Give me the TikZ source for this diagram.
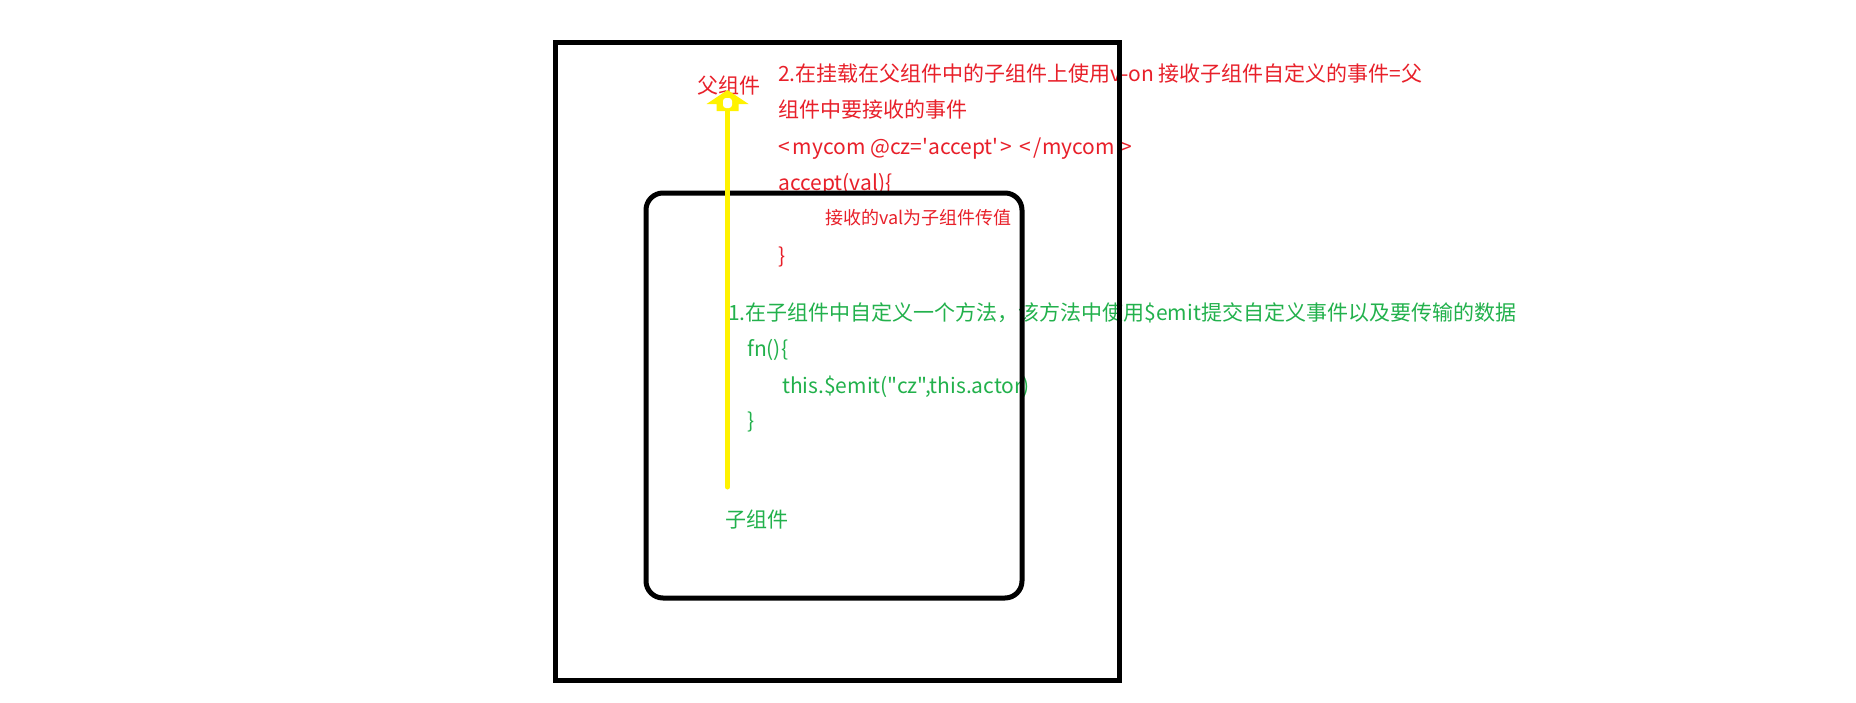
\documentclass[tikz,border=0pt]{standalone}
\usepackage{fontspec}
\newfontfamily\cnfont{Noto Sans CJK SC}
\definecolor{pred}{HTML}{E8202A}
\definecolor{pgreen}{HTML}{22B14C}
\definecolor{pyellow}{HTML}{FFF200}

\begin{document}
\begin{tikzpicture}[x=1pt,y=-1pt,
	parenttxt/.style={anchor=base west, inner sep=0pt, text=pred, font=\cnfont\fontsize{21}{25}\selectfont},
	notetxt/.style={parenttxt, font=\cnfont\fontsize{18}{22}\selectfont},
	childtxt/.style={anchor=base west, inner sep=0pt, text=pgreen, font=\cnfont\fontsize{21}{25}\selectfont},
	frame/.style={line width=5pt}]
			\useasboundingbox[fill=white] (0,0) rectangle (1856,702);
			\node[parenttxt](parent) at (697,93){父组件};
			\node[parenttxt](p1) at (778,81){2.在挂载在父组件中的子组件上使用v-on 接收子组件自定义的事件=父};
			\node[parenttxt](p2) at (778,117.5){组件中要接收的事件};
			\node[parenttxt](p3) at (778,154){<\kern3pt mycom @cz='accept'\kern2pt>\kern7pt<\kern3pt/mycom\kern6pt>};
			\node[parenttxt](p4) at (778,190.5){accept(val)\{};
			\node[notetxt](p5) at (825,224){接收的val为子组件传值};
			\node[parenttxt](p6) at (778,263){\}};
			\node[childtxt](c1) at (728,320){1.在子组件中自定义一个方法，该方法中使用\$emit提交自定义事件以及要传输的数据};
			\node[childtxt](c2) at (747,356){fn()\{};
			\node[childtxt](c3) at (782,393){this.\$emit("cz",this.actor)};
			\node[childtxt](c4) at (747,428){\}};
			\node[childtxt](child) at (725,527){子组件};
			\draw[frame] (555,42.5) rectangle (1119,680);
			\draw[frame, rounded corners=17pt] (646,193) rectangle (1022,598);
			\coordinate (tail) at (727.5,487);
			\coordinate (neck) at (727.5,110);
			\coordinate (tip) at (727.5,90);
			\draw[pyellow, line width=5pt, line cap=round] (tail) -- (neck);
			\fill[pyellow] (tip) -- ++(-21,14) -- ++(10,0) -- ++(0,7) -- ++(22,0) -- ++(0,-7) -- ++(10,0) -- cycle;
			\fill[white, rounded corners=3pt] ([xshift=-4.5pt,yshift=-8pt]tip) rectangle ([xshift=4.5pt,yshift=-18pt]tip);
\end{tikzpicture}
\end{document}
